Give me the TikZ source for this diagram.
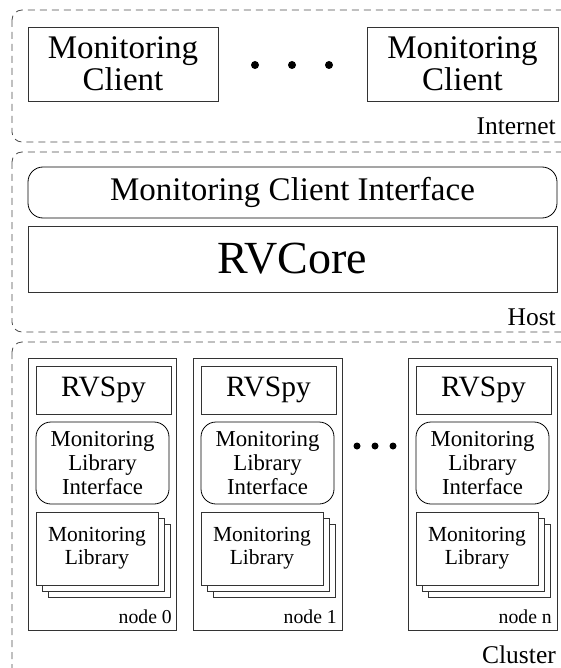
\documentclass[tikz,border=0pt]{standalone}
\usepackage{fontspec}
\setmainfont{LiberationSerif}[Extension=.ttf,UprightFont=*-Regular,BoldFont=*-Bold]
\begin{document}
\begin{tikzpicture}[x=1pt,y=-1pt,
	region/.style={draw=black!70,dash pattern=on 7pt off 5pt,rounded corners=10pt,line width=.8pt},
	box/.style={draw=black!80,line width=.8pt,inner sep=0pt,align=center},
	iface/.style={box,draw=black,rounded corners=15pt},
	libbox/.style={box,fill=white,minimum width=122,minimum height=73,font=\fontsize{21.5}{23}\selectfont},
	lbl/.style={anchor=base east,inner sep=0pt,font=\fontsize{25.5}{26}\selectfont}]
	\useasboundingbox (0,0) rectangle (560,668);
	\draw[region] (12,10) rectangle (575,142);
	\draw[region] (12,152) rectangle (575,332);
	\draw[region] (12,342) rectangle (575,678);
	\node[box,minimum width=190,minimum height=74,font=\fontsize{33}{32}\selectfont] (client1) at (123,64) {Monitoring\\Client};
	\node[box,minimum width=191,minimum height=74,font=\fontsize{33}{32}\selectfont] (clientn) at (462.5,64) {Monitoring\\Client};
	\fill (255,65) circle (4) (292,65) circle (4) (329,65) circle (4);
	\node[lbl] (internet) at (556,135) {Internet};
	\node[iface,minimum width=529,minimum height=51,font=\fontsize{33}{32}\selectfont] (mci) at (292.5,192.5) {Monitoring Client Interface};
	\node[box,minimum width=529,minimum height=66,font=\fontsize{46}{46}\selectfont] (rvcore) at (292.5,259) {RVCore};
	\node[lbl] (host) at (556,325) {Host};
	\node[box,minimum width=148,minimum height=272] (node0) at (102,494) {};
	\node[box,minimum width=135,minimum height=48,font=\fontsize{29.5}{30}\selectfont] (spy0) at (103.5,390) {RVSpy};
	\node[iface,minimum width=133,minimum height=82,font=\fontsize{22.8}{24}\selectfont] (mli0) at (102.5,463) {Monitoring\\Library\\Interface};
	\node[libbox] (lib0c) at (109,560.5) {};
	\node[libbox] (lib0b) at (103,554.5) {};
	\node[libbox] (lib0) at (97,548.5) {Monitoring\\Library};
	\node[lbl,font=\fontsize{19.7}{20}\selectfont] (name0) at (172,623) {node 0};
	\node[box,minimum width=149,minimum height=272] (node1) at (267.5,494) {};
	\node[box,minimum width=135,minimum height=48,font=\fontsize{29.5}{30}\selectfont] (spy1) at (268.5,390) {RVSpy};
	\node[iface,minimum width=133,minimum height=82,font=\fontsize{22.8}{24}\selectfont] (mli1) at (267.5,463) {Monitoring\\Library\\Interface};
	\node[libbox] (lib1c) at (274,560.5) {};
	\node[libbox] (lib1b) at (268,554.5) {};
	\node[libbox] (lib1) at (262,548.5) {Monitoring\\Library};
	\node[lbl,font=\fontsize{19.7}{20}\selectfont] (name1) at (337,623) {node 1};
	\fill (357,446) circle (3.5) (375,446) circle (3.5) (393,446) circle (3.5);
	\node[box,minimum width=149,minimum height=272] (noden) at (482.5,494) {};
	\node[box,minimum width=135,minimum height=48,font=\fontsize{29.5}{30}\selectfont] (spyn) at (483.5,390) {RVSpy};
	\node[iface,minimum width=133,minimum height=82,font=\fontsize{22.8}{24}\selectfont] (mlin) at (482.5,463) {Monitoring\\Library\\Interface};
	\node[libbox] (libnc) at (489,560.5) {};
	\node[libbox] (libnb) at (483,554.5) {};
	\node[libbox] (libn) at (477,548.5) {Monitoring\\Library};
	\node[lbl,font=\fontsize{19.7}{20}\selectfont] (namen) at (552,623) {node n};
	\node[lbl] (cluster) at (556,663) {Cluster};
\end{tikzpicture}
\end{document}
